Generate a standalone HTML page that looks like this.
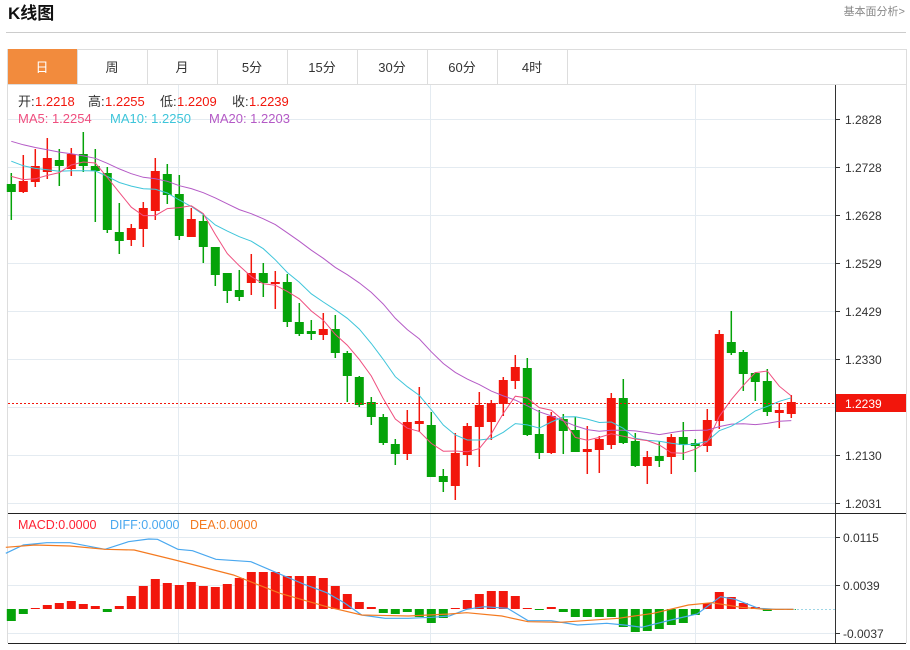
<!DOCTYPE html>
<html><head><meta charset="utf-8"><style>
body{margin:0;background:#fff;width:910px;height:645px;overflow:hidden;font-family:"Liberation Sans","Noto Sans CJK SC",sans-serif;}
</style></head><body>
<svg id="s" width="910" height="645" xmlns="http://www.w3.org/2000/svg" font-family="Liberation Sans, Noto Sans CJK SC, sans-serif"></svg>
<script>
var R="#f2160c",G="#05a309";
var C=[[184,192,173,220,0],[181,192,155,193,1],[166,182,149,187,1],[158,172,138,179,1],[160,166,149,186,0],[154,169,148,176,1],[154,166,132,172,0],[166,171,149,222,0],[173,230,167,233,0],[232,241,203,254,0],[228,240,224,246,1],[208,229,202,247,1],[171,211,158,220,1],[174,195,164,204,0],[194,236,175,240,0],[219,237,208,237,1],[221,247,215,263,0],[247,275,247,286,0],[273,291,273,303,0],[290,297,270,301,0],[273,283,254,295,1],[273,283,263,297,0],[282,284,271,309,1],[282,322,274,327,0],[322,334,303,336,0],[331,334,320,340,0],[329,335,313,340,1],[329,353,315,358,0],[353,376,351,402,0],[377,405,376,407,0],[402,417,397,425,0],[417,443,414,445,0],[444,454,439,465,0],[422,454,410,460,1],[421,424,387,432,1],[425,477,412,477,0],[476,482,469,492,0],[453,486,433,500,1],[426,455,423,466,1],[405,427,392,467,1],[403,422,400,440,1],[380,404,377,416,1],[367,381,355,389,1],[368,435,358,436,0],[434,453,410,459,0],[416,453,412,454,1],[419,431,414,454,0],[430,452,417,452,0],[449,452,426,474,1],[439,450,436,473,1],[398,445,393,449,1],[398,443,379,444,0],[441,466,433,467,0],[457,466,451,484,1],[456,461,441,467,0],[437,457,434,474,1],[437,445,422,460,0],[443,446,439,472,0],[420,446,409,452,1],[334,421,330,429,1],[342,353,311,355,0],[352,374,350,391,0],[373,382,372,401,0],[381,412,369,416,0],[410,413,403,428,1],[402,414,395,418,1]];
var h='';
function L(x1,y1,x2,y2,c,w,d){h+='<line x1="'+x1+'" y1="'+y1+'" x2="'+x2+'" y2="'+y2+'" stroke="'+c+'" stroke-width="'+(w||1)+'"'+(d?' stroke-dasharray="'+d+'"':'')+'/>';}
function T(x,y,t,c,s,a,w){h+='<text x="'+x+'" y="'+y+'" fill="'+c+'" font-size="'+s+'"'+(a?' text-anchor="'+a+'"':'')+(w?' font-weight="bold"':'')+'>'+t+'</text>';}
T(8,19,'K线图','#111',17,0,1);
T(905,15,'基本面分析&gt;','#888',11,'end');
L(6,32.5,906,32.5,'#ccc');
var tabs=['日','周','月','5分','15分','30分','60分','4时'];
L(7,49.5,906,49.5,'#ddd');L(7,84.5,906,84.5,'#ddd');
for(var i=0;i<8;i++){var x=7+i*70;
 if(i==0)h+='<rect x="7" y="49" width="70" height="35" fill="#f28b3d"/>';
 L(x+70.5,49,x+70.5,84,'#ddd');
 T(x+35,72,tabs[i],i==0?'#fff':'#333',13,'middle');}
L(7.5,49,7.5,643,'#ddd');L(906.5,49,906.5,643,'#ddd');
var gy=[119,167,215,263,311,359,407,455,503],gl=['1.2828','1.2728','1.2628','1.2529','1.2429','1.2330','','1.2130','1.2031'];
gy.forEach(function(y,i){L(8,y+.5,835,y+.5,'#e4ebf1');L(835,y+.5,840,y+.5,'#333');if(gl[i])T(845,y+5,gl[i],'#333',12);});
[178.5,430.5,695.5].forEach(function(x){L(x,85,x,643,'#e4ebf1');});
[537,585,633].forEach(function(y){L(8,y+.5,835,y+.5,'#e4ebf1');});
L(835.5,85,835.5,643,'#333');
L(8,513.5,906,513.5,'#222');L(8,643.5,906,643.5,'#222');
C.forEach(function(c,i){var x=11.3+12*i,col=c[4]?R:G;
 L(x,c[2],x,c[3],col,1.5);
 h+='<rect x="'+(x-4.5)+'" y="'+c[0]+'" width="9" height="'+Math.max(2,c[1]-c[0])+'" fill="'+col+'"/>';});
var pad=[110,112,115,118,120,122,125,128,130,133,135,140,145,150,160,165,170,175,180];
var cl=pad.concat(C.map(function(c){return c[4]?c[0]:c[1];}));
function ma(n,col){var p=[];for(var i=0;i<C.length;i++){var k=i+19,s=0;for(var j=0;j<n;j++)s+=cl[k-j];p.push((11.3+12*i).toFixed(1)+','+(s/n).toFixed(1));}
 h+='<polyline points="'+p.join(' ')+'" fill="none" stroke="'+col+'" stroke-width="1"/>';}
ma(20,'#b45ac6');ma(10,'#3ec5da');ma(5,'#ef4f7f');
L(8,403.5,835,403.5,R,1,'2,2');
h+='<rect x="836" y="394" width="70" height="18" fill="'+R+'"/>';T(845,408,'1.2239','#fff',12);
T(18,106,'开:','#333',13);T(35,106,'1.2218',R,13);
T(88,106,'高:','#333',13);T(105,106,'1.2255',R,13);
T(160,106,'低:','#333',13);T(177,106,'1.2209',R,13);
T(232,106,'收:','#333',13);T(249,106,'1.2239',R,13);
T(18,123,'MA5: 1.2254','#ef4f7f',13);T(110,123,'MA10: 1.2250','#3ec5da',13);T(209,123,'MA20: 1.2203','#b45ac6',13);
T(18,529,'MACD:0.0000','#f23',12.5);T(110,529,'DIFF:0.0000','#4aa8ef',12.5);T(190,529,'DEA:0.0000','#f47a20',12.5);
[['0.0115',537],['0.0039',585],['-0.0037',633]].forEach(function(a){L(835,a[1]+.5,840,a[1]+.5,'#333');T(843,a[1]+5,a[0],'#333',12);});
var M=[621,614,608,605,603,601,604,606,612,606,596,586,579,583,585,582,586,587,584,578,572,572,572,576,576,576,578,586,594,602,607,613,614,612,617,623,618,608,600,594,591,591,596,608,610,607,612,617,617,617,617,627,632,631,629,625,623,615,603,592,597,603,607,611,610,609];
var Z=609;
M.forEach(function(y,i){var x=11.3+12*i,col=y<Z?R:G;var t=Math.min(y,Z),hh=Math.max(1,Math.abs(y-Z));
 h+='<rect x="'+(x-4.5)+'" y="'+t+'" width="9" height="'+hh+'" fill="'+col+'"/>';});
L(793,609.5,835,609.5,'#9fd6e6',1,'2,2');
function pl(a,col){h+='<polyline points="'+a.map(function(p){return (p[0]/1.714).toFixed(1)+','+(510+p[1]/3).toFixed(1);}).join(' ')+'" fill="none" stroke="'+col+'" stroke-width="1.2"/>';}
pl([[10,130],[40,105],[80,98],[120,98],[180,118],[220,95],[255,87],[270,88],[305,118],[330,122],[370,148],[430,155],[470,185],[520,222],[560,248],[590,278],[620,315],[660,325],[700,325],[740,322],[770,318],[800,298],[830,290],[870,295],[905,332],[945,332],[990,345],[1040,340],[1070,345],[1100,352],[1150,330],[1195,312],[1235,260],[1260,268],[1300,295],[1330,298],[1360,298]],'#4aa8ef');
pl([[10,112],[60,105],[120,108],[180,118],[230,120],[300,150],[400,195],[480,250],[560,290],[620,315],[700,318],[770,312],[800,308],[860,318],[905,335],[960,337],[1060,325],[1120,310],[1180,285],[1220,278],[1270,292],[1310,298],[1360,298]],'#f47a20');
document.getElementById('s').innerHTML=h;
</script>
</body></html>
